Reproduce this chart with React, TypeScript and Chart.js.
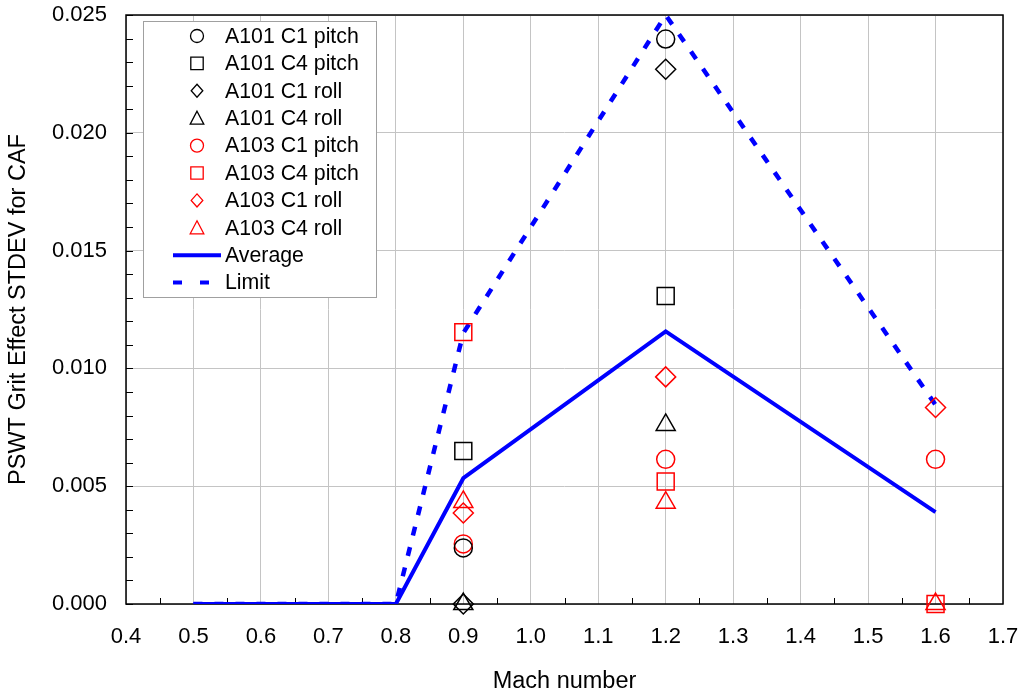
import React, { useEffect, useRef } from "react";
import { Chart, registerables } from "chart.js";

Chart.register(...registerables);

// ---- data ----
const machPoints = [0.9, 1.2, 1.6];
const a101C1Pitch = [0.00238, 0.02398, null];
const a101C4Pitch = [0.00649, 0.01307, null];
const a101C1Roll = [0, 0.0227, null];
const a101C4Roll = [0, 0.0076, null];
const a103C1Pitch = [0.00255, 0.00614, 0.00614];
const a103C4Pitch = [0.01154, 0.0052, 0];
const a103C1Roll = [0.00386, 0.00964, 0.00834];
const a103C4Roll = [0.00433, 0.0043, 0];

const lineMach = [0.5, 0.8, 0.9, 1.2, 1.6];
const averageValues = [0, 0, 0.00534, 0.01157, 0.0039];
const limitValues = [0, 0, 0.0115, 0.025, 0.00845];

const seriesLabels = [
  "A101 C1 pitch",
  "A101 C4 pitch",
  "A101 C1 roll",
  "A101 C4 roll",
  "A103 C1 pitch",
  "A103 C4 pitch",
  "A103 C1 roll",
  "A103 C4 roll",
  "Average",
  "Limit",
];

const FONT = "'Liberation Sans', Arial, sans-serif";
const BLACK = "#000000";
const RED = "#ff0000";
const BLUE = "#0000ff";

type Marker = "circle" | "rect" | "rectRot" | "triangle";

const markerSeries: { values: (number | null)[]; style: Marker; color: string }[] = [
  { values: a101C1Pitch, style: "circle", color: BLACK },
  { values: a101C4Pitch, style: "rect", color: BLACK },
  { values: a101C1Roll, style: "rectRot", color: BLACK },
  { values: a101C4Roll, style: "triangle", color: BLACK },
  { values: a103C1Pitch, style: "circle", color: RED },
  { values: a103C4Pitch, style: "rect", color: RED },
  { values: a103C1Roll, style: "rectRot", color: RED },
  { values: a103C4Roll, style: "triangle", color: RED },
];

const plotRadius: Record<Marker, number> = { circle: 9, rect: 12, rectRot: 10, triangle: 11 };

function toPoints(xs: number[], ys: (number | null)[]) {
  const out: { x: number; y: number }[] = [];
  xs.forEach((x, i) => {
    const y = ys[i];
    if (y !== null && y !== undefined) out.push({ x, y });
  });
  return out;
}

function drawLegendMarker(ctx: CanvasRenderingContext2D, style: Marker, x: number, y: number, color: string) {
  ctx.save();
  ctx.strokeStyle = color;
  ctx.lineWidth = 1.3;
  ctx.beginPath();
  if (style === "circle") {
    ctx.arc(x, y, 6.5, 0, Math.PI * 2);
  } else if (style === "rect") {
    ctx.rect(x - 6.2, y - 6.2, 12.4, 12.4);
  } else if (style === "rectRot") {
    ctx.moveTo(x, y - 6.5);
    ctx.lineTo(x + 5.8, y);
    ctx.lineTo(x, y + 6.5);
    ctx.lineTo(x - 5.8, y);
    ctx.closePath();
  } else {
    ctx.moveTo(x, y - 7);
    ctx.lineTo(x + 6.8, y + 6);
    ctx.lineTo(x - 6.8, y + 6);
    ctx.closePath();
  }
  ctx.stroke();
  ctx.restore();
}

const framePlugin = {
  id: "frameAndLegend",
  beforeDatasetsDraw(chart: any) {
    const ctx: CanvasRenderingContext2D = chart.ctx;
    const { left, right, top, bottom } = chart.chartArea;
    const xs = chart.scales.x;
    const ys = chart.scales.y;
    ctx.save();
    // minor ticks
    ctx.strokeStyle = BLACK;
    ctx.lineWidth = 1;
    ctx.beginPath();
    for (let i = 0; i <= 26; i++) {
      if (i % 2 === 0) continue;
      const v = 0.4 + i * 0.05;
      const px = Math.round(xs.getPixelForValue(v)) + 0.5;
      ctx.moveTo(px, bottom);
      ctx.lineTo(px, bottom - 6);
    }
    for (let i = 0; i <= 25; i++) {
      const v = i * 0.001;
      const py = Math.round(ys.getPixelForValue(v)) + 0.5;
      ctx.moveTo(left, py);
      ctx.lineTo(left + 7, py);
    }
    ctx.stroke();
    // frame
    ctx.lineWidth = 1.5;
    ctx.strokeRect(left, top, right - left, bottom - top);
    ctx.restore();
  },
  afterDraw(chart: any) {
    const ctx: CanvasRenderingContext2D = chart.ctx;
    ctx.save();
    // legend
    const bx = 143, by = 21, bw = 233, bh = 276;
    ctx.fillStyle = "#ffffff";
    ctx.fillRect(bx, by, bw, bh);
    ctx.strokeStyle = "#a0a0a0";
    ctx.lineWidth = 1;
    ctx.strokeRect(bx + 0.5, by + 0.5, bw, bh);
    const rowY0 = 36;
    const rowStep = 27.4;
    ctx.font = `21.3px ${FONT}`;
    ctx.textBaseline = "middle";
    ctx.textAlign = "left";
    for (let i = 0; i < seriesLabels.length; i++) {
      const y = rowY0 + i * rowStep;
      if (i < markerSeries.length) {
        drawLegendMarker(ctx, markerSeries[i].style, 197, y, markerSeries[i].color);
      } else {
        ctx.strokeStyle = BLUE;
        ctx.lineWidth = 4;
        ctx.setLineDash(i === 8 ? [] : [9, 18]);
        ctx.beginPath();
        ctx.moveTo(173, y);
        ctx.lineTo(i === 8 ? 221 : 212, y);
        ctx.stroke();
        ctx.setLineDash([]);
      }
      ctx.fillStyle = BLACK;
      ctx.fillText(seriesLabels[i], 225, y + 1);
    }
    ctx.restore();
  },
};

export default function App() {
  const ref = useRef<HTMLCanvasElement | null>(null);
  useEffect(() => {
    if (!ref.current) return;
    const datasets: any[] = [
      {
        label: seriesLabels[8],
        type: "line",
        data: toPoints(lineMach, averageValues),
        borderColor: BLUE,
        backgroundColor: BLUE,
        borderWidth: 4,
        pointRadius: 0,
        showLine: true,
        fill: false,
        tension: 0,
        order: 1,
      },
      {
        label: seriesLabels[9],
        type: "line",
        data: toPoints(lineMach, limitValues),
        borderColor: BLUE,
        backgroundColor: BLUE,
        borderWidth: 4.5,
        borderDash: [9, 12],
        pointRadius: 0,
        showLine: true,
        fill: false,
        tension: 0,
        order: 2,
      },
      ...markerSeries.map((s, i) => ({
        label: seriesLabels[i],
        type: "scatter",
        data: toPoints(machPoints, s.values),
        pointStyle: s.style,
        pointRadius: plotRadius[s.style],
        pointBorderWidth: 1.5,
        pointBorderColor: s.color,
        pointBackgroundColor: "rgba(0,0,0,0)",
        borderColor: s.color,
        backgroundColor: "rgba(0,0,0,0)",
        showLine: false,
        clip: false,
        order: 0,
      })),
    ];
    const chart = new Chart(ref.current, {
      type: "scatter",
      data: { datasets },
      options: {
        animation: false,
        responsive: false,
        maintainAspectRatio: false,
        layout: { padding: { left: 0, right: 21, top: 15, bottom: 0 } },
        plugins: { legend: { display: false }, tooltip: { enabled: false } },
        scales: {
          x: {
            type: "linear",
            min: 0.4,
            max: 1.7,
            afterFit: (scale: any) => {
              scale.height = 92;
              scale.paddingLeft = 0;
              scale.paddingRight = 0;
            },
            ticks: {
              stepSize: 0.1,
              padding: 20,
              color: BLACK,
              font: { family: FONT, size: 22 },
              maxRotation: 0,
              callback: (v: any) => Number(v).toFixed(1),
            },
            grid: { color: "#c4c4c4", lineWidth: 1, drawTicks: false },
            border: { display: false },
            title: {
              display: true,
              text: "Mach number",
              color: BLACK,
              font: { family: FONT, size: 23.5 },
              padding: { top: 0, bottom: 0 },
            },
          },
          y: {
            type: "linear",
            min: 0,
            max: 0.025,
            afterFit: (scale: any) => {
              scale.width = 126;
              scale.paddingTop = 0;
              scale.paddingBottom = 0;
            },
            ticks: {
              stepSize: 0.005,
              padding: 19,
              color: BLACK,
              font: { family: FONT, size: 22 },
              callback: (v: any) => Number(v).toFixed(3),
            },
            grid: { color: "#c4c4c4", lineWidth: 1, drawTicks: false },
            border: { display: false },
            title: {
              display: true,
              text: "PSWT Grit Effect STDEV for CAF",
              color: BLACK,
              font: { family: FONT, size: 23.5 },
              padding: { top: 4, bottom: 0 },
            },
          },
        },
      },
      plugins: [framePlugin],
    });
    return () => chart.destroy();
  }, []);
  return (
    <div style={{ position: "fixed", left: 0, top: 0, width: 1024, height: 696, background: "#fff" }}>
      <canvas ref={ref} width={1024} height={696} style={{ width: 1024, height: 696 }} />
    </div>
  );
}
